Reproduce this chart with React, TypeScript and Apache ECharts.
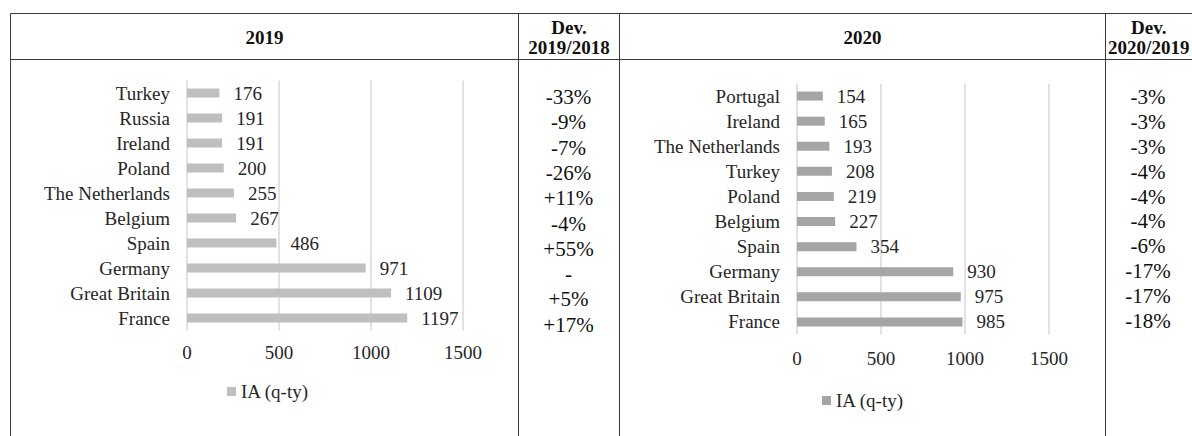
import React, { useEffect, useRef } from "react";
import * as echarts from "echarts";

// ---- data ----
const categories2019 = ["Turkey", "Russia", "Ireland", "Poland", "The Netherlands", "Belgium", "Spain", "Germany", "Great Britain", "France"];
const values2019 = [176, 191, 191, 200, 255, 267, 486, 971, 1109, 1197];
const dev2019 = ["-33%", "-9%", "-7%", "-26%", "+11%", "-4%", "+55%", "-", "+5%", "+17%"];

const categories2020 = ["Portugal", "Ireland", "The Netherlands", "Turkey", "Poland", "Belgium", "Spain", "Germany", "Great Britain", "France"];
const values2020 = [154, 165, 193, 208, 219, 227, 354, 930, 975, 985];
const dev2020 = ["-3%", "-3%", "-3%", "-4%", "-4%", "-4%", "-6%", "-17%", "-17%", "-18%"];

const axisMin = 0;
const axisMax = 1500;
const axisStep = 500;

const headerLabels = ["2019", "Dev.\n2019/2018", "2020", "Dev.\n2020/2019"];
const legendLabel = "IA (q-ty)";

const FONT = "Liberation Serif, serif";
const TEXT = "#262626";

export default function App() {
  const ref = useRef<HTMLDivElement>(null);

  useEffect(() => {
    if (!ref.current) return;
    const chart = echarts.init(ref.current, undefined, { renderer: "svg" });

    const border = "#3a3a3a";
    const line = (x1: number, y1: number, x2: number, y2: number) => ({
      type: "line",
      silent: true,
      shape: { x1, y1, x2, y2 },
      style: { stroke: border, lineWidth: 1 },
    });

    const colX = [10.5, 518.5, 619.5, 1105.5, 1192];
    const topY = 13.5;
    const headY = 59.5;
    const bottomY = 436;

    const headerCenters = [
      (colX[0] + colX[1]) / 2,
      (colX[1] + colX[2]) / 2,
      (colX[2] + colX[3]) / 2,
      (colX[3] + 1192) / 2,
    ];

    const xAxisCommon = (gridIndex: number, margin: number) => ({
      type: "value",
      gridIndex,
      min: axisMin,
      max: axisMax,
      interval: axisStep,
      axisLine: { show: false },
      axisTick: { show: false },
      splitLine: { show: true, lineStyle: { color: "#d9d9d9", width: 1.5 } },
      axisLabel: {
        fontFamily: FONT,
        fontSize: 19,
        color: TEXT,
        margin,
        formatter: (v: number) => String(v),
      },
    });

    const yAxisCommon = (gridIndex: number, data: string[]) => ({
      type: "category",
      gridIndex,
      data,
      inverse: true,
      axisLine: { show: false },
      axisTick: { show: false },
      axisLabel: { fontFamily: FONT, fontSize: 19, color: TEXT, margin: 17, interval: 0 },
    });

    const devY = (gridIndex: number, data: string[]) => ({
      type: "category",
      gridIndex,
      data,
      inverse: true,
      axisLine: { show: false },
      axisTick: { show: false },
      axisLabel: { fontFamily: FONT, fontSize: 21, color: "#111", margin: 0, align: "center", interval: 0 },
    });

    const hiddenX = (gridIndex: number) => ({
      type: "value",
      gridIndex,
      show: false,
      min: 0,
      max: 1,
    });

    const barSeries = (name: string, idx: number, data: number[], color: string) => ({
      type: "bar",
      name,
      xAxisIndex: idx,
      yAxisIndex: idx,
      data,
      barWidth: 9,
      itemStyle: { color },
      label: {
        show: true,
        position: "right",
        distance: 14,
        fontFamily: FONT,
        fontSize: 19,
        color: TEXT,
      },
    });

    chart.setOption({
      animation: false,
      backgroundColor: "#ffffff",
      textStyle: { fontFamily: FONT },
      grid: [
        { left: 187, width: 276, top: 80.5, height: 250, containLabel: false },
        { left: 797, width: 252, top: 83.5, height: 251, containLabel: false },
        { left: 568.5, width: 1, top: 84.4, height: 253, containLabel: false },
        { left: 1148, width: 1, top: 84.5, height: 249, containLabel: false },
      ],
      xAxis: [xAxisCommon(0, 12), xAxisCommon(1, 14), hiddenX(2), hiddenX(3)],
      yAxis: [
        yAxisCommon(0, categories2019),
        yAxisCommon(1, categories2020),
        devY(2, dev2019),
        devY(3, dev2020),
      ],
      legend: [
        {
          data: ["2019"],
          left: 227,
          top: 382,
          padding: 0,
          itemWidth: 9,
          itemHeight: 9,
          icon: "rect",
          formatter: () => legendLabel,
          textStyle: { fontFamily: FONT, fontSize: 19, color: TEXT },
          selectedMode: false,
        },
        {
          data: ["2020"],
          left: 822,
          top: 391,
          padding: 0,
          itemWidth: 9,
          itemHeight: 9,
          icon: "rect",
          formatter: () => legendLabel,
          textStyle: { fontFamily: FONT, fontSize: 19, color: TEXT },
          selectedMode: false,
        },
      ],
      series: [
        barSeries("2019", 0, values2019, "#bfbfbf"),
        barSeries("2020", 1, values2020, "#a5a5a5"),
      ],
      graphic: [
        line(colX[0], topY, 1192, topY),
        line(colX[0], headY, 1192, headY),
        line(colX[0], topY, colX[0], bottomY),
        line(colX[1], topY, colX[1], bottomY),
        line(colX[2], topY, colX[2], bottomY),
        line(colX[3], topY, colX[3], bottomY),
        ...headerLabels.map((t, i) => ({
          type: "text",
          silent: true,
          x: headerCenters[i],
          y: (topY + headY) / 2 + 1,
          style: {
            text: t,
            fontFamily: FONT,
            fontSize: 19,
            fontWeight: "bold",
            lineHeight: 20,
            fill: "#111",
            align: "center",
            verticalAlign: "middle",
          },
        })),
      ],
    });

    return () => chart.dispose();
  }, []);

  return (
    <div
      ref={ref}
      style={{ position: "fixed", left: 0, top: 0, width: 1192, height: 436, background: "#fff" }}
    />
  );
}
